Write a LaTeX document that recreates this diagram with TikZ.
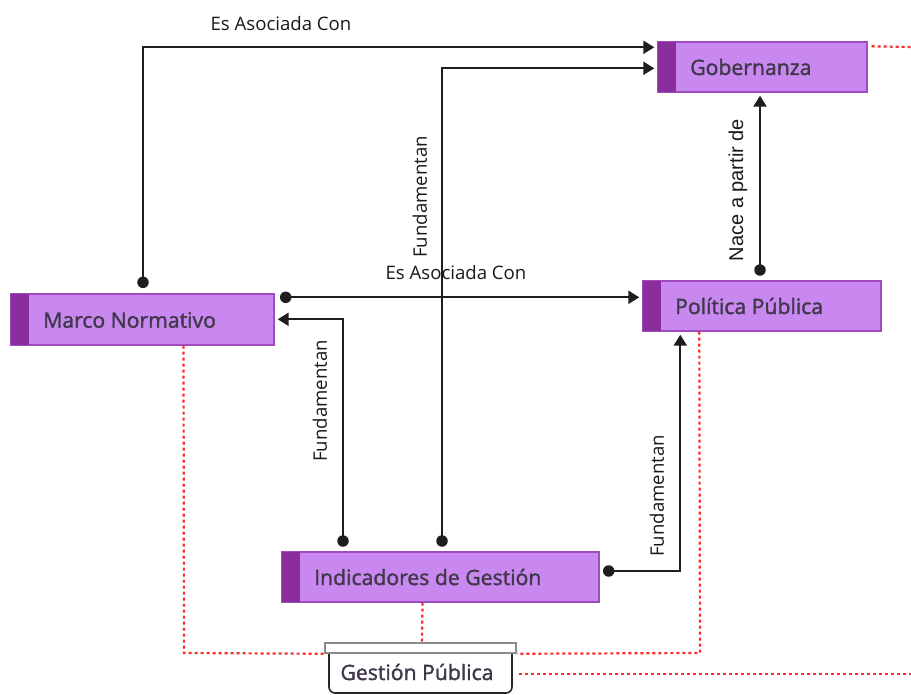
\documentclass[tikz,border=0pt]{standalone}
\usepackage{fontspec}
\setmainfont{Open Sans}
\newfontfamily\boxfont[FakeBold=1.6]{Open Sans}
\newfontfamily\arialfont{Liberation Sans}
\usetikzlibrary{arrows.meta,calc}
\definecolor{boxfill}{HTML}{C888F0}
\definecolor{boxstrip}{HTML}{8A2E9E}
\definecolor{boxline}{HTML}{A04CC0}
\definecolor{boxtext}{HTML}{40384A}
\definecolor{conncol}{HTML}{1E1E1E}
\definecolor{redline}{HTML}{FF2A2A}
\tikzset{
  conceptbox/.style={draw=boxline, line width=1.4pt, fill=boxfill, inner sep=0pt},
  striprect/.style={fill=boxstrip},
  boxlabel/.style={anchor=west, inner sep=0pt, text=boxtext, font=\boxfont\fontsize{21.2}{25}\selectfont},
  linklabel/.style={inner sep=0pt, text=black!90, font=\fontsize{18.6}{22}\selectfont},
  conn/.style={draw=conncol, line width=2.2pt},
  arr/.style={conn, -{Triangle[length=11pt,width=13pt]}, shorten >=3pt},
  dotstart/.style={fill=conncol, circle, inner sep=0pt, minimum size=11.5pt},
  reddot/.style={draw=redline, line width=2.2pt, dash pattern=on 3pt off 3pt},
}
\begin{document}
\begin{tikzpicture}[x=1pt,y=-1pt]
\useasboundingbox (0,0) rectangle (911,694);
% concept boxes
\node[conceptbox, minimum width=209pt, minimum height=50pt] (gob) at (762.5,67) {};
\fill[striprect] ($(gob.north west)+(0.7,0.7)$) rectangle ($(gob.south west)+(19,-0.7)$);
\node[boxlabel] (gobT) at (690,67) {Gobernanza};

\node[conceptbox, minimum width=263pt, minimum height=51pt] (marco) at (142.5,319.5) {};
\fill[striprect] ($(marco.north west)+(0.7,0.7)$) rectangle ($(marco.south west)+(19,-0.7)$);
\node[boxlabel] (marcoT) at (43,320) {Marco Normativo};

\node[conceptbox, minimum width=238pt, minimum height=50pt] (pol) at (762,306) {};
\fill[striprect] ($(pol.north west)+(0.7,0.7)$) rectangle ($(pol.south west)+(19,-0.7)$);
\node[boxlabel] (polT) at (675,306) {Política Pública};

\node[conceptbox, minimum width=317pt, minimum height=50pt] (ind) at (440.5,577) {};
\fill[striprect] ($(ind.north west)+(0.7,0.7)$) rectangle ($(ind.south west)+(19,-0.7)$);
\node[boxlabel] (indT) at (314,577) {Indicadores de Gestión};

% Gestion Publica
\draw[draw=black!85, line width=1.6pt, fill=white, rounded corners=6pt]
  (329,648) -- (329,693) -- (512,693) -- (512,648);
\node[draw=black!45, line width=1.5pt, fill=white, minimum width=191pt, minimum height=10pt, inner sep=0pt] (gestbar) at (420.5,648) {};
\node[inner sep=0pt, text=boxtext, font=\boxfont\fontsize{21.2}{25}\selectfont] (gest) at (417,672) {Gestión Pública};

% red dotted connectors
\coordinate (gobEnd) at (911,47);
\coordinate (gestEnd) at (911,674);
\draw[reddot] ($(gob.north east)+(4,5)$) -- (gobEnd);
\draw[reddot] ($(marco.south)+(41,0)$) -- (184,653) -- (gestbar.south west);
\draw[reddot] ($(ind.south)+(-18,0)$) -- ($(gestbar.north)+(1.5,0)$);
\draw[reddot] ($(pol.south west)+(57,0)$) -- (700,653) -- (gestbar.south east);
\draw[reddot] (519,674) -- (gestEnd);

% connectors
\coordinate (c1s) at ($(marco.north)+(0.5,-11)$);
\draw[arr] (c1s) |- ($(gob.north west)+(0,6)$);
\node[dotstart] (d1) at (c1s) {};
\node[linklabel] (l1) at (281,24) {Es Asociada Con};

\coordinate (c2s) at (442,541);
\draw[arr] (c2s) |- ($(gob.north west)+(0,27)$);
\node[dotstart] (d2) at (c2s) {};
\node[linklabel, rotate=90] (l2) at (420,197) {Fundamentan};

\coordinate (c3s) at ($(marco.north east)+(11,4)$);
\draw[arr] (c3s) -- ($(pol.north west)+(0,17)$);
\node[dotstart] (d3) at (c3s) {};
\node[linklabel] (l3) at (456,273) {Es Asociada Con};

\coordinate (c4s) at (343,541);
\draw[arr] (c4s) |- ($(marco.north east)+(0,26)$);
\node[dotstart] (d4) at (c4s) {};
\node[linklabel, rotate=90] (l4) at (320,401) {Fundamentan};

\coordinate (c5s) at ($(ind.east)+(9,-6)$);
\draw[arr] (c5s) -| ($(pol.south west)+(38,0)$);
\node[dotstart] (d5) at (c5s) {};
\node[linklabel, rotate=90] (l5) at (657,496) {Fundamentan};

\coordinate (c6s) at (760,270);
\draw[arr] (c6s) -- (gob.south -| c6s);
\node[dotstart] (d6) at (c6s) {};
\node[inner sep=0pt, text=black!90, font=\arialfont\fontsize{20}{24}\selectfont, rotate=90] (l6) at (738,190) {Nace a partir de};
\end{tikzpicture}
\end{document}
